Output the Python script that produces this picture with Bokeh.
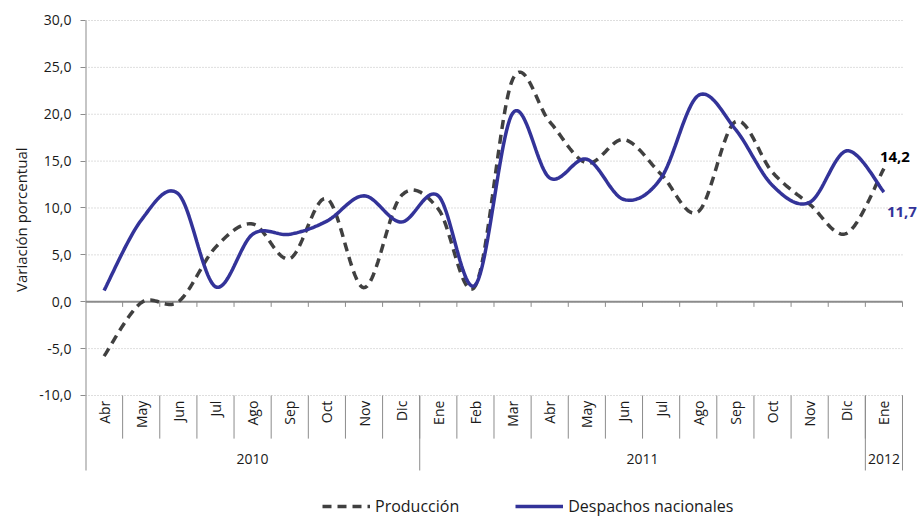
import math
from bokeh.plotting import figure
from bokeh.models import (Range1d, FixedTicker, Label, Legend, LegendItem, Title)
from bokeh.embed import file_html
from bokeh.resources import INLINE
from bokeh.core.properties import value

# ---------------- data ----------------
months = ["Abr", "May", "Jun", "Jul", "Ago", "Sep", "Oct", "Nov", "Dic",
          "Ene", "Feb", "Mar", "Abr", "May", "Jun", "Jul", "Ago", "Sep",
          "Oct", "Nov", "Dic", "Ene"]
years = ["2010", "2011", "2012"]
year_counts = [9, 12, 1]
produccion = [-5.8, -0.1, 0.0, 5.8, 8.3, 4.6, 11.0, 1.5, 11.3,
              9.9, 1.7, 23.7, 19.2, 14.8, 17.3, 13.6, 9.6, 19.2,
              13.8, 10.4, 7.3, 14.2]
despachos = [1.2, 8.7, 11.5, 1.6, 7.2, 7.2, 8.6, 11.3, 8.5,
             11.3, 1.8, 20.1, 13.2, 15.2, 10.9, 13.2, 22.0, 18.4,
             12.4, 10.6, 16.1, 11.7]
y_ticks = [-10, -5, 0, 5, 10, 15, 20, 25, 30]
y_tick_labels = ["-10,0", "-5,0", "0,0", "5,0", "10,0", "15,0", "20,0", "25,0", "30,0"]
series_names = ["Producción", "Despachos nacionales"]
y_title = "Variación porcentual"

FONT = "Open Sans"
TXT = "#1a1a1a"
BLUE = "#333399"
DARK = "#404040"
AXIS = "#8c8c8c"

n = len(months)
xc = [i + 0.5 for i in range(n)]


def smooth(xs, ys, steps=24):
    pts = list(zip(xs, ys))
    ox, oy = [], []
    for i in range(len(pts) - 1):
        p0 = pts[i - 1] if i > 0 else pts[i]
        p1 = pts[i]
        p2 = pts[i + 1]
        p3 = pts[i + 2] if i + 2 < len(pts) else pts[i + 1]
        c1 = (p1[0] + (p2[0] - p0[0]) / 6, p1[1] + (p2[1] - p0[1]) / 6)
        c2 = (p2[0] - (p3[0] - p1[0]) / 6, p2[1] - (p3[1] - p1[1]) / 6)
        for k in range(steps + (1 if i == len(pts) - 2 else 0)):
            t = k / steps
            a = (1 - t) ** 3
            b = 3 * (1 - t) ** 2 * t
            c = 3 * (1 - t) * t ** 2
            d = t ** 3
            ox.append(a * p1[0] + b * c1[0] + c * c2[0] + d * p2[0])
            oy.append(a * p1[1] + b * c1[1] + c * c2[1] + d * p2[1])
    return ox, oy


# frame: canvas x 85..919, y 0..518 ; 37.136 px per category, 9.375 px per unit
p = figure(width=919, height=518, output_backend="svg", toolbar_location=None,
           x_range=Range1d(0, 22.458), y_range=Range1d(-23.12, 32.133),
           x_axis_location=None, min_border_left=85, min_border_right=0,
           min_border_top=0, min_border_bottom=0)
p.outline_line_color = None
p.background_fill_color = "white"
p.border_fill_color = "white"
p.xgrid.visible = False
p.ygrid.visible = False

ax = p.yaxis[0]
ax.ticker = FixedTicker(ticks=y_ticks)
ax.major_label_overrides = {t: l for t, l in zip(y_ticks, y_tick_labels)}
ax.minor_tick_line_color = None
ax.major_tick_in = 0
ax.major_tick_out = 5
ax.major_tick_line_color = AXIS
ax.axis_line_color = None
ax.major_label_standoff = 9
ax.major_label_text_font = FONT
ax.major_label_text_font_size = "14px"
ax.major_label_text_color = TXT

# y title in the left panel
p.add_layout(Title(text=y_title, align="right", offset=147, standoff=12,
                   text_font=FONT, text_font_size="15px", text_font_style="normal",
                   text_color=TXT), "left")

# grid lines (dotted)
p.segment(x0=[0] * len(y_ticks), y0=y_ticks, x1=[n] * len(y_ticks), y1=y_ticks,
          line_color="#bdbdbd", line_width=1, line_dash="1 2")

# vertical axis line (extends to bottom of category area)
p.segment(x0=[0], y0=[-18], x1=[0], y1=[30], line_color=AXIS, line_width=2)

# horizontal axis line at 0 with small ticks
p.line([0, n], [0, 0], line_color=AXIS, line_width=2)
bx = list(range(1, n + 1))
p.segment(x0=bx, y0=[0] * len(bx), x1=bx, y1=[-0.55] * len(bx), line_color=AXIS, line_width=1)

# category separators
p.segment(x0=bx, y0=[-10] * len(bx), x1=bx, y1=[-14.6] * len(bx), line_color=AXIS, line_width=1)
yb = []
acc = 0
for c in year_counts:
    acc += c
    yb.append(acc)
p.segment(x0=yb, y0=[-10] * len(yb), x1=yb, y1=[-18] * len(yb), line_color=AXIS, line_width=1)

# month labels
p.text(x=xc, y=[-10.55] * n, text=months, angle=math.pi / 2, text_align="right",
       text_baseline="middle", text_font=value(FONT), text_font_size="14px", text_color=TXT)
# year labels
yx = []
start = 0
for c in year_counts:
    yx.append(start + c / 2)
    start += c
p.text(x=yx, y=[-16.75] * len(yx), text=years, text_align="center", text_baseline="middle",
       text_font=value(FONT), text_font_size="14px", text_color=TXT)

sx, sy = smooth(xc, produccion)
r1 = p.line(sx, sy, line_color=DARK, line_width=3.5, line_dash="9 6")
sx2, sy2 = smooth(xc, despachos)
r2 = p.line(sx2, sy2, line_color=BLUE, line_width=3.5)

# end labels
fmt = lambda v: f"{v:.1f}".replace(".", ",")
p.add_layout(Label(x=xc[-1], y=produccion[-1], text=fmt(produccion[-1]), x_offset=-4, y_offset=12,
                   text_baseline="middle", text_font=FONT, text_font_size="15px",
                   text_font_style="bold", text_color="#000000"))
p.add_layout(Label(x=xc[-1], y=despachos[-1], text=fmt(despachos[-1]), x_offset=3, y_offset=-20,
                   text_baseline="middle", text_font=FONT, text_font_size="15px",
                   text_font_style="bold", text_color=BLUE))

legend = Legend(items=[LegendItem(label=series_names[0], renderers=[r1]),
                       LegendItem(label=series_names[1], renderers=[r2])],
                location=(237, 1), orientation="horizontal", glyph_width=48, glyph_height=16,
                label_height=16, label_standoff=5, spacing=56, padding=0, margin=0,
                border_line_color=None, background_fill_alpha=0,
                label_text_font=FONT, label_text_font_size="16px", label_text_color=TXT)
p.add_layout(legend)

open("out.html", "w").write(file_html(p, INLINE))
